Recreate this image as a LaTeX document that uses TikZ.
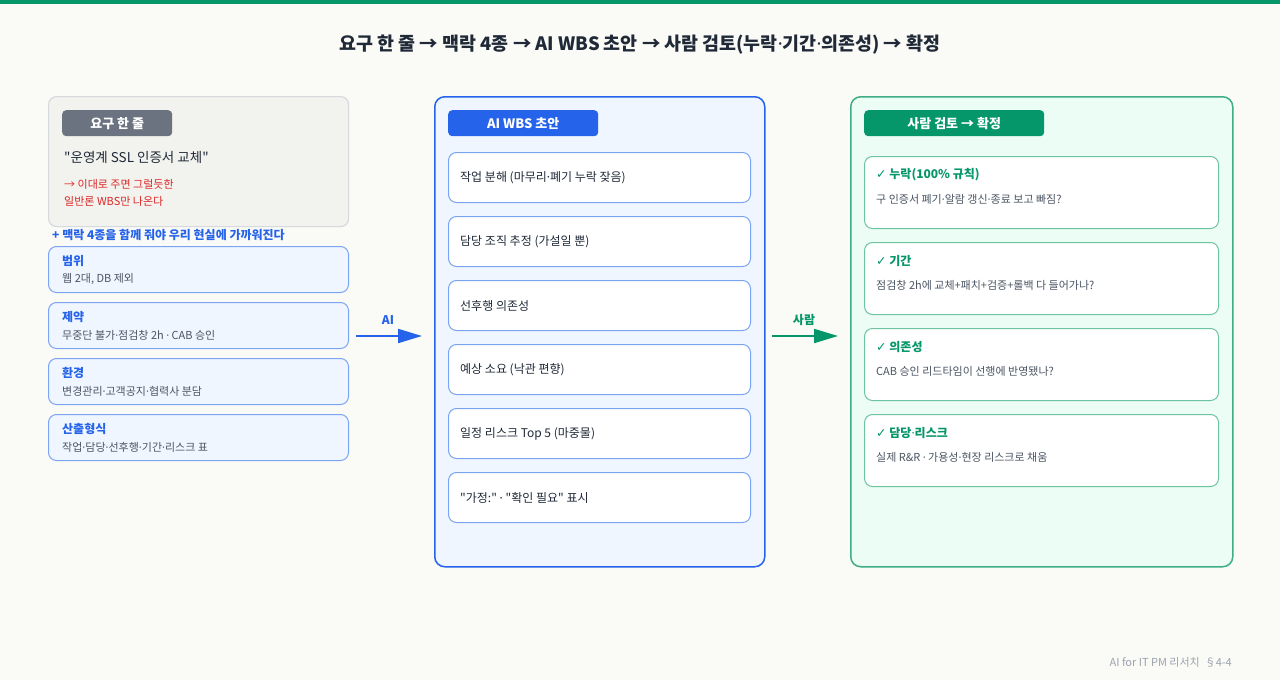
\documentclass[tikz,border=0pt]{standalone}
\usepackage{fontspec}
\setmainfont{Noto Sans CJK KR}[Ligatures=TeXOff]
\newfontfamily\symfont{DejaVu Sans}
\newfontfamily\dotfont{Noto Sans}
\usepackage{tikz}
\usetikzlibrary{
  arrows.meta,%
  positioning
}
\definecolor{pagebg}{HTML}{FAFAF6}
\definecolor{topbar}{HTML}{059669}
\definecolor{ink}{HTML}{1F2937}
\definecolor{subink}{HTML}{4B5563}
\definecolor{footink}{HTML}{9CA3AF}
\definecolor{wbsblue}{HTML}{2563EB}
\definecolor{wbsfill}{HTML}{EFF6FF}
\definecolor{wbsline}{HTML}{7BA5F3}
\definecolor{revgreen}{HTML}{059669}
\definecolor{revfill}{HTML}{ECFDF5}
\definecolor{revframe}{HTML}{3FAE86}
\definecolor{revline}{HTML}{6CC4A1}
\definecolor{reqfill}{HTML}{F2F3EE}
\definecolor{reqline}{HTML}{D6D9DE}
\definecolor{reqtag}{HTML}{6B7280}
\definecolor{warnred}{HTML}{DC2626}
\newcommand{\fsz}[1]{\fontsize{#1}{#1}\selectfont}
% narrow middle dot
\newcommand{\md}{{\dotfont ·}}
\tikzset{>=latex}
\tikzset{
  panel/.style={draw, rounded corners=10pt, line width=1.5pt, anchor=north west,
    inner sep=0pt},
  tagbox/.style={rounded corners=4pt, anchor=north west, minimum height=26pt,
    inner sep=0pt, text=white, font=\bfseries\fsz{13}},
  ctxbox/.style={draw=wbsline, fill=wbsfill, rounded corners=8pt, line width=1pt,
    minimum width=300pt, minimum height=46pt, anchor=north west, inner sep=0pt},
  wbsbox/.style={draw=wbsline, fill=white, rounded corners=8pt, line width=1pt,
    minimum width=302pt, minimum height=50pt, anchor=north west, inner sep=0pt},
  revbox/.style={draw=revline, fill=white, rounded corners=8pt, line width=1pt,
    minimum width=354pt, minimum height=72pt, anchor=north west, inner sep=0pt},
  txt/.style={anchor=west, inner sep=0pt},
  flow/.style={line width=2pt, -{Triangle[length=24pt,width=14pt]}},
  flowlabel/.style={inner sep=0pt, font=\bfseries\fsz{12}}
}

\begin{document}
\begin{tikzpicture}[x=1pt, y=-1pt]
  % page
  \fill[pagebg] (0,0) rectangle (1280,680);
  \fill[topbar] (0,0) rectangle (1280,4);
  \node[inner sep=0pt, text=ink, font=\bfseries\fsz{18.4}] (title) at (640,45)
    {요구 한 줄 → 맥락 4종 → AI WBS 초안 → 사람 검토(누락\md 기간\md 의존성) → 확정};

  % requirement, one line
  \node[panel, draw=reqline, fill=reqfill, line width=1.2pt, rounded corners=8pt,
    minimum width=300pt, minimum height=130pt] (req) at (48,96) {};
  \node[tagbox, fill=reqtag, minimum width=110pt] (req-tag) at (62,110) {요구 한 줄};
  \node[txt, text=ink, font=\fsz{13.5}] (req-line) at (64,157) {"운영계 SSL 인증서 교체"};
  \node[txt, text=warnred, font=\fsz{11}] (req-warn1) at (64,184) {→ 이대로 주면 그럴듯한};
  \node[txt, text=warnred, font=\fsz{11}] (req-warn2) at (64,201) {일반론 WBS만 나온다};
  \node[txt, text=wbsblue, font=\bfseries\fsz{12}] (ctx-hint) at (52,235)
    {+ 맥락 4종을 함께 줘야 우리 현실에 가까워진다};

  % four kinds of context
  \foreach \ttl/\sub [count=\i] in {범위/{웹 2대, DB 제외},
      제약/{무중단 불가\md 점검창 2h \md\ CAB 승인},
      환경/{변경관리\md 고객공지\md 협력사 분담},
      산출형식/{작업\md 담당\md 선후행\md 기간\md 리스크 표}}{
    \node[ctxbox] (ctx-\i) at (48,{246+(\i-1)*56}) {};
    \node[txt, text=wbsblue, font=\bfseries\fsz{12}] (ctx-\i-ttl)
      at ([xshift=14pt,yshift=-15pt]ctx-\i.north west) {\ttl};
    \node[txt, text=subink, font=\fsz{11}] (ctx-\i-sub)
      at ([xshift=14pt,yshift=-33pt]ctx-\i.north west) {\sub};
  }

  % AI draft
  \node[panel, draw=wbsblue, fill=wbsfill, minimum width=330pt, minimum height=470pt]
    (wbs) at (434,96) {};
  \node[tagbox, fill=wbsblue, minimum width=150pt] (wbs-tag) at (448,110) {AI WBS 초안};
  \foreach \item [count=\i] in {{작업 분해 (마무리\md 폐기 누락 잦음)},
      {담당 조직 추정 (가설일 뿐)}, {선후행 의존성}, {예상 소요 (낙관 편향)},
      {일정 리스크 Top 5 (마중물)}, {"가정:" \md\ "확인 필요" 표시}}{
    \node[wbsbox] (wbs-\i) at (448,{152+(\i-1)*64}) {};
    \node[txt, text=ink, font=\fsz{12}] (wbs-\i-txt)
      at ([xshift=12pt]wbs-\i.west) {\item};
  }

  % human review
  \node[panel, draw=revframe, fill=revfill, minimum width=382pt, minimum height=470pt]
    (rev) at (850,96) {};
  \node[tagbox, fill=revgreen, minimum width=180pt] (rev-tag) at (864,110) {사람 검토 → 확정};
  \foreach \ttl/\sub [count=\i] in {{누락(100\% 규칙)}/{구 인증서 폐기\md 알람 갱신\md 종료 보고 빠짐?},
      기간/{점검창 2h에 교체+패치+검증+롤백 다 들어가나?},
      의존성/{CAB 승인 리드타임이 선행에 반영됐나?},
      {담당\md 리스크}/{실제 R\&R \md\ 가용성\md 현장 리스크로 채움}}{
    \node[revbox] (rev-\i) at (864,{156+(\i-1)*86}) {};
    \node[txt, text=revgreen, font=\bfseries\fsz{12}] (rev-\i-ttl)
      at ([xshift=12pt,yshift=-19pt]rev-\i.north west) {{\symfont\fsz{12.5}✓} \ttl};
    \node[txt, text=subink, font=\fsz{11}] (rev-\i-sub)
      at ([xshift=12pt,yshift=-43pt]rev-\i.north west) {\sub};
  }

  % hand-overs
  \coordinate (ai-from) at (356,336);
  \coordinate (ai-to) at (422,336);
  \draw[flow, wbsblue] (ai-from) -- (ai-to);
  \node[flowlabel, text=wbsblue] (ai-lbl) at (388,320) {AI};
  \coordinate (hum-from) at (772,336);
  \coordinate (hum-to) at (838,336);
  \draw[flow, revgreen] (hum-from) -- (hum-to);
  \node[flowlabel, text=revgreen] (hum-lbl) at (804,320) {사람};

  \node[anchor=east, inner sep=0pt, text=footink, font=\fsz{11}] (foot) at (1232,662)
    {AI for IT PM 리서치 \ §4-4};
\end{tikzpicture}
\end{document}
